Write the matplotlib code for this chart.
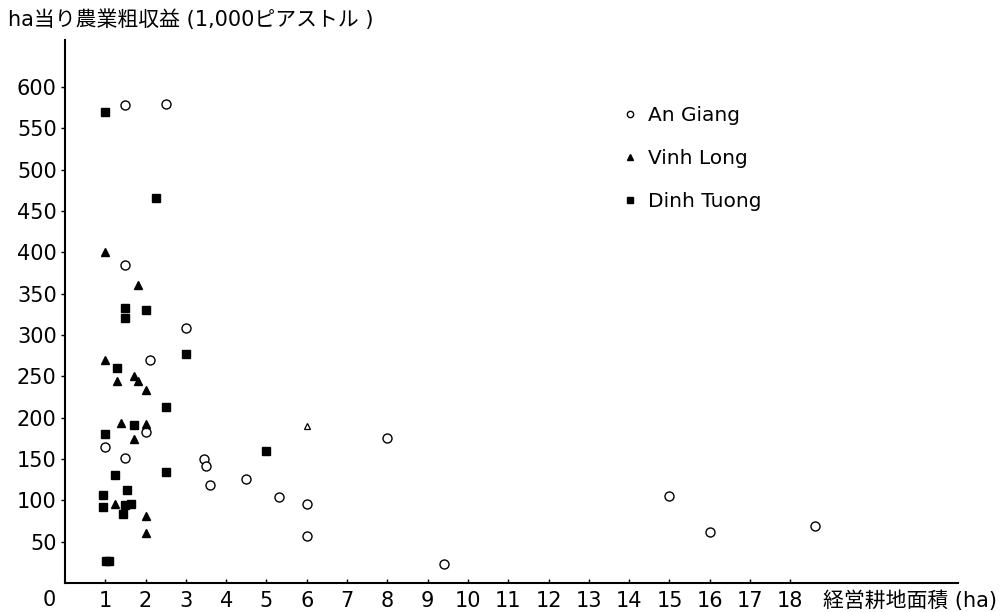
import numpy as np
import matplotlib
matplotlib.use("Agg")
import matplotlib.pyplot as plt

plt.rcParams['font.family'] = ['DejaVu Sans', 'Noto Sans CJK JP']

# An Giang (open circles)
ag_x = [1.0, 1.5, 1.5, 1.5, 2.5, 2.0, 2.1, 3.0, 3.45, 3.5, 3.6, 4.5, 5.3, 6.0, 6.0, 8.0, 9.4, 15.0, 16.0, 18.6]
ag_y = [164, 151, 385, 578, 580, 183, 270, 308, 150, 142, 118, 126, 104, 95, 57, 175, 23, 105, 62, 69]

# Vinh Long (filled triangles)
vl_x = [1.0, 1.8, 1.0, 1.3, 1.7, 1.8, 2.0, 1.4, 2.0, 1.7, 1.25, 2.0, 2.0]
vl_y = [400, 361, 270, 245, 250, 244, 234, 194, 192, 174, 95, 81, 60]
# Vinh Long point printed as an open triangle
vl_open_x = [6.0]
vl_open_y = [190]

# Dinh Tuong (filled squares)
dt_x = [1.0, 2.25, 1.5, 1.5, 2.0, 3.0, 1.3, 2.5, 1.7, 1.0, 5.0, 1.25, 2.5, 1.55, 0.95, 0.95, 1.5, 1.65, 1.45, 1.02, 1.1]
dt_y = [570, 466, 333, 321, 330, 277, 260, 213, 191, 180, 160, 131, 134, 113, 106, 92, 94, 95, 84, 27, 27]

x_ticks = list(range(1, 19))
y_ticks = list(range(50, 601, 50))

fig = plt.figure(figsize=(10.06, 6.12), dpi=100)
ax = fig.add_axes([65 / 1006, 1 - 583 / 612, 893 / 1006, 543 / 612])

ax.plot(ag_x, ag_y, 'o', ms=6.5, mfc='white', mec='black', mew=1.0, ls='none', label='An Giang')
ax.plot(vl_x, vl_y, '^', ms=6, color='black', ls='none', label='Vinh Long')
ax.plot(vl_open_x, vl_open_y, '^', ms=5, mfc='white', mec='black', mew=0.9, ls='none')
ax.plot(dt_x, dt_y, 's', ms=6, color='black', ls='none', label='Dinh Tuong')

ax.set_xlim(0, 22.16)
ax.set_ylim(0, 657)
ax.set_xticks(x_ticks)
ax.set_yticks(y_ticks)
ax.tick_params(axis='x', direction='in', length=3, width=1, pad=6, labelsize=15)
ax.tick_params(axis='y', direction='out', length=3, width=1, pad=3, labelsize=15)

for s in ['top', 'right']:
    ax.spines[s].set_visible(False)
for s in ['left', 'bottom']:
    ax.spines[s].set_linewidth(1.5)

ax.annotate('0', xy=(0, 0), xycoords='data', xytext=(-11, -12.5), textcoords='offset points',
            ha='center', va='center', fontsize=15, annotation_clip=False)
ax.annotate('経営耕地面積 (ha)', xy=(18.8, 0), xycoords='data', xytext=(0, -12.5),
            textcoords='offset points', ha='left', va='center', fontsize=15,
            annotation_clip=False)
fig.text(8 / 1006, 1 - 20 / 612, 'ha当り農業粗収益 (1,000ピアストル )', ha='left', va='center', fontsize=15)

leg = ax.legend(loc='upper left', bbox_to_anchor=(0.603, 0.912), frameon=False,
                fontsize=14.5, markerscale=0.7, handlelength=0.8, handletextpad=0.5,
                labelspacing=1.2)

fig.savefig('out.png', dpi=100)
